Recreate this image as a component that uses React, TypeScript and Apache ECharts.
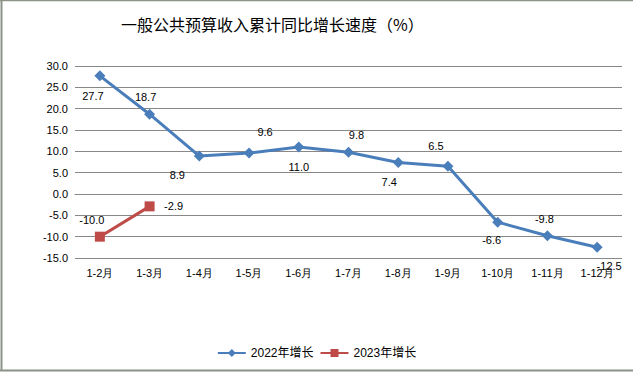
import React, { useEffect, useRef } from "react";
import * as echarts from "echarts";

const categories = ["1-2月", "1-3月", "1-4月", "1-5月", "1-6月", "1-7月", "1-8月", "1-9月", "1-10月", "1-11月", "1-12月"];
const growth2022 = [27.7, 18.7, 8.9, 9.6, 11.0, 9.8, 7.4, 6.5, -6.6, -9.8, -12.5];
const growth2023 = [-10.0, -2.9];
const seriesNames = ["2022年增长", "2023年增长"];
const titleText = "一般公共预算收入累计同比增长速度（%）";

// label offsets (style only)
const offsets2022 = [[-7, 20], [-4, -17], [-22, 19], [16, -21], [0, 20], [8, -17], [-9, 20], [-12, -20], [-6, 18], [-3, -17], [12, 19]];
const offsets2023 = [[-8, -17], [24, 0]];

const labelFont = { fontFamily: "Liberation Sans, Arial, sans-serif", fontSize: 11, color: "#000" };

export default function App() {
  const ref = useRef<HTMLDivElement>(null);
  useEffect(() => {
    const chart = echarts.init(ref.current!, null, { renderer: "svg" });
    const mk = (vals: number[], offs: number[][]) =>
      vals.map((v, i) => ({
        value: v,
        label: { show: true, position: "inside", offset: offs[i], formatter: (p: any) => Number(p.value).toFixed(1) },
      }));
    chart.setOption({
      animation: false,
      backgroundColor: "#fff",
      title: {
        text: titleText,
        left: 116,
        top: 11,
        textStyle: { fontFamily: "Noto Sans CJK SC", fontSize: 16, fontWeight: "normal", color: "#000" },
      },
      graphic: [
        { type: "line", shape: { x1: 1.5, y1: 0, x2: 1.5, y2: 371 }, style: { stroke: "#8c9488", lineWidth: 2 } },
        { type: "line", shape: { x1: 0, y1: 0.5, x2: 633, y2: 0.5 }, style: { stroke: "#8c9488", lineWidth: 1.5 } },
        { type: "line", shape: { x1: 0, y1: 370.5, x2: 633, y2: 370.5 }, style: { stroke: "#8c9488", lineWidth: 2 } },
      ],
      legend: {
        data: seriesNames,
        left: "center",
        top: 342,
        itemWidth: 28,
        itemHeight: 10,
        itemGap: 6,
        textStyle: { fontFamily: "Liberation Sans, Noto Sans CJK SC", fontSize: 12, color: "#000" },
      },
      grid: { left: 75, right: 11, top: 66, bottom: 115, containLabel: false },
      xAxis: {
        type: "category",
        data: categories,
        boundaryGap: true,
        axisTick: { show: false },
        axisLine: { show: true, lineStyle: { color: "#888", width: 1 } },
        axisLabel: { ...labelFont, margin: 9, interval: 0 },
      },
      yAxis: {
        type: "value",
        min: -15,
        max: 30,
        interval: 5,
        axisLine: { show: false },
        axisTick: { show: false },
        axisLabel: { ...labelFont, margin: 7, formatter: (v: number) => v.toFixed(1) },
        splitLine: { lineStyle: { color: "#888", width: 1 } },
      },
      series: [
        {
          name: seriesNames[0],
          type: "line",
          data: mk(growth2022, offsets2022),
          symbol: "diamond",
          symbolSize: 11,
          lineStyle: { color: "#4a7ebb", width: 3 },
          itemStyle: { color: "#4a7ebb" },
          label: { ...labelFont },
          z: 3,
        },
        {
          name: seriesNames[1],
          type: "line",
          data: mk(growth2023, offsets2023),
          symbol: "rect",
          symbolSize: 10,
          lineStyle: { color: "#be4b48", width: 3 },
          itemStyle: { color: "#be4b48" },
          label: { ...labelFont },
          z: 4,
        },
      ],
    });
    return () => chart.dispose();
  }, []);
  return <div ref={ref} style={{ position: "absolute", left: 0, top: 0, width: 633, height: 373 }} />;
}
